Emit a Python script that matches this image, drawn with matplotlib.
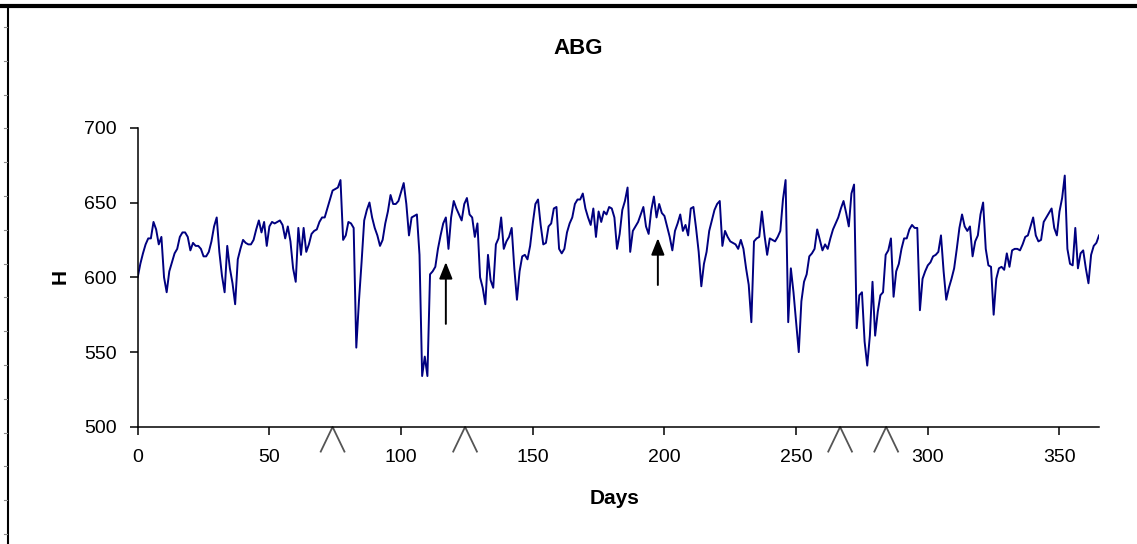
import numpy as np
import matplotlib
matplotlib.use("Agg")
import matplotlib.pyplot as plt
import matplotlib.lines as lines

# daily values, day 0 .. 365
h_values = [
    600, 609, 616, 622, 626, 626, 637, 632, 622, 627,
    600, 590, 604, 610, 616, 619, 627, 630, 630, 627,
    618, 623, 621, 621, 619, 614, 614, 617, 624, 634,
    640, 617, 601, 590, 621, 606, 596, 582, 612, 619,
    625, 623, 622, 622, 625, 632, 638, 630, 637, 621,
    634, 637, 636, 637, 638, 635, 626, 634, 624, 606,
    597, 633, 615, 633, 617, 622, 629, 631, 632, 637,
    640, 640, 646, 652, 658, 659, 660, 665, 625, 628,
    637, 636, 633, 553, 584, 610, 638, 645, 650, 640,
    633, 628, 621, 625, 636, 644, 655, 649, 649, 651,
    657, 663, 649, 628, 640, 641, 642, 615, 534, 547,
    534, 602, 604, 607, 619, 628, 636, 640, 619, 640,
    651, 646, 642, 638, 649, 653, 642, 640, 627, 636,
    600, 593, 582, 615, 598, 593, 622, 626, 640, 619,
    624, 627, 633, 606, 585, 604, 614, 615, 612, 621,
    636, 649, 652, 635, 622, 623, 634, 636, 646, 647,
    619, 616, 619, 630, 636, 640, 649, 652, 652, 656,
    646, 640, 635, 646, 627, 644, 637, 644, 642, 647,
    646, 640, 619, 629, 645, 651, 660, 617, 631, 634,
    637, 642, 647, 634, 629, 645, 654, 640, 649, 643,
    641, 634, 627, 618, 631, 636, 642, 631, 635, 628,
    646, 647, 633, 617, 594, 609, 617, 631, 638, 645,
    649, 651, 621, 631, 627, 624, 623, 622, 619, 625,
    619, 606, 595, 570, 624, 626, 627, 644, 628, 615,
    626, 625, 624, 627, 631, 652, 665, 570, 606, 590,
    570, 550, 584, 597, 602, 614, 616, 619, 632, 625,
    618, 622, 619, 626, 632, 636, 640, 646, 651, 643,
    634, 656, 662, 566, 588, 590, 557, 541, 561, 597,
    561, 577, 588, 590, 615, 618, 626, 587, 604, 609,
    619, 626, 626, 632, 635, 633, 633, 578, 599, 604,
    608, 610, 614, 615, 617, 628, 604, 585, 593, 599,
    606, 619, 633, 642, 634, 631, 634, 614, 624, 628,
    642, 650, 619, 608, 607, 575, 599, 606, 607, 605,
    616, 607, 618, 619, 619, 618, 622, 627, 628, 634,
    640, 628, 624, 625, 637, 640, 643, 646, 633, 628,
    644, 653, 668, 619, 609, 608, 633, 606, 616, 618,
    606, 596, 615, 621, 623, 628,
]
days = np.arange(len(h_values))

# event markers
chevron_days = [74, 124.3, 266.7, 284.2]
arrow_days = [117, 197.5]
arrow_tail = [567, 593]
arrow_tip = [612, 628]

x_ticks = [0, 50, 100, 150, 200, 250, 300, 350]
y_ticks = [500, 550, 600, 650, 700]

plt.rcParams['font.family'] = ['Liberation Sans', 'DejaVu Sans']

W, H = 1137, 544
fig = plt.figure(figsize=(W / 100, H / 100), dpi=100)
fig.patch.set_facecolor('white')
ax = fig.add_axes([137.7 / W, 1 - 426.9 / H, (1099 - 137.7) / W, (426.9 - 127.7) / H])

ax.plot(days, h_values, color='#000080', lw=1.4)

ax.set_xlim(0, 365)
ax.set_ylim(500, 700)
ax.set_xticks(x_ticks)
ax.set_yticks(y_ticks)
ax.tick_params(axis='both', direction='out', length=6, width=1.1,
               labelsize=14, color='black')
ax.tick_params(axis='y', pad=9)
ax.tick_params(axis='x', pad=10)
for s in ['top', 'right']:
    ax.spines[s].set_visible(False)
for s in ['left', 'bottom']:
    ax.spines[s].set_linewidth(1.1)

# chevrons under the axis
for d in chevron_days:
    ax.plot([d - 4.5, d, d - 4.5 + 9], [483.5, 500, 483.5], color='#555555',
            lw=1.3, clip_on=False)

for d, y0, y1 in zip(arrow_days, arrow_tail, arrow_tip):
    ax.annotate('', xy=(d, y1), xytext=(d, y0),
                arrowprops=dict(arrowstyle='-|>,head_length=1.0,head_width=0.4',
                                color='black', lw=1.4))

fig.text(578 / W, 1 - 48 / H, 'ABG', ha='center', va='center',
         fontsize=16, fontweight='bold')
fig.text(615 / W, 1 - 499 / H, 'Days', ha='center', va='center',
         fontsize=15, fontweight='bold')
fig.text(60 / W, 1 - 277 / H, 'H', ha='center', va='center', rotation=90,
         fontsize=15, fontweight='bold')

# window frame of the screenshot
fig.add_artist(lines.Line2D([0, 1], [1 - 6 / H, 1 - 6 / H], color='black', lw=3))
fig.add_artist(lines.Line2D([8.3 / W, 8.3 / W], [0, 1 - 6 / H], color='black', lw=1.5))
for yy in np.arange(27, H, 33.8):
    fig.add_artist(lines.Line2D([4 / W, 7 / W], [1 - yy / H, 1 - yy / H],
                                color='#888888', lw=0.8))

fig.savefig('out.png', dpi=100)
